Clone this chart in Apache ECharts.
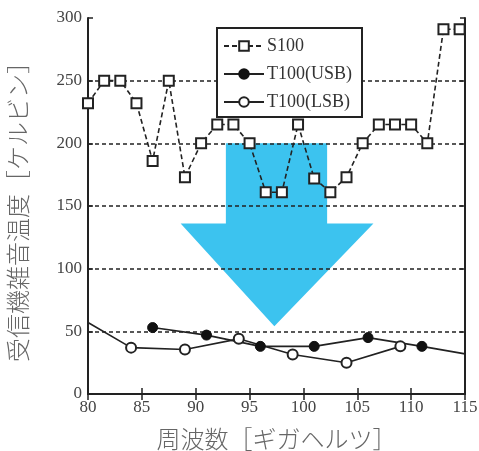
<!DOCTYPE html>
<html>
<head>
<meta charset="utf-8">
<script src="https://cdn.jsdelivr.net/npm/echarts@6/dist/echarts.min.js"></script>
<style>html,body{margin:0;padding:0;background:#fff}#c{width:479px;height:451px}</style>
</head>
<body>
<div id="c"></div>
<script>
const s100Freq = [80, 81.5, 83, 84.5, 86, 87.5, 89, 90.5, 92, 93.5, 95, 96.5, 98, 99.5, 101, 102.5, 104, 105.5, 107, 108.5, 110, 111.5, 113, 114.5];
const s100Vals = [232, 250, 250, 232, 186, 250, 173, 200, 215, 215, 200, 161, 161, 215, 172, 161, 173, 200, 215, 215, 215, 200, 291, 291];
const usbFreq = [86, 91, 96, 101, 106, 111, 115];
const usbVals = [53, 47, 38, 38, 45, 38, 32];
const lsbFreq = [80, 84, 89, 94, 99, 104, 109];
const lsbVals = [57, 37, 35.5, 44, 31.5, 25, 38];
const yTicks = [0, 50, 100, 150, 200, 250, 300];
const xTicks = [80, 85, 90, 95, 100, 105, 110, 115];
// arrow annotation outline in data coordinates
const arrowOutline = [[92.8, 200], [102.2, 200], [102.2, 136], [106.5, 136], [97.3, 54], [88.6, 136], [92.8, 136]];

const serif = 'Liberation Serif';
const jp = 'Noto Sans CJK JP';
const chart = echarts.init(document.getElementById('c'));

function pairs(xs, ys, noSymbolIdx) {
  return xs.map((x, i) => {
    const d = { value: [x, ys[i]] };
    if (noSymbolIdx !== undefined && noSymbolIdx.includes(i)) d.symbol = 'none';
    return d;
  });
}

chart.setOption({
  backgroundColor: '#fff',
  animation: false,
  grid: { left: 88, right: 14, top: 18, bottom: 57, containLabel: false, outerBoundsMode: 'none' },
  xAxis: [{
    type: 'value', min: 80, max: 115, interval: 5,
    axisLine: { lineStyle: { color: '#222', width: 2 } },
    axisTick: { inside: true, length: 6, lineStyle: { color: '#222', width: 1.5 } },
    axisLabel: { color: '#444', fontFamily: serif, fontSize: 17, margin: 5 },
    splitLine: { show: false },
    name: '周波数［ギガヘルツ］', nameLocation: 'middle', nameGap: 33,
    nameTextStyle: { color: '#666', fontFamily: jp, fontSize: 24, fontWeight: 300 }
  }, {
    type: 'value', min: 80, max: 115, interval: 5, position: 'top',
    axisLine: { lineStyle: { color: '#222', width: 2 } },
    axisTick: { inside: true, length: 6, lineStyle: { color: '#222', width: 1.5 } },
    axisLabel: { show: false }, splitLine: { show: false }
  }],
  yAxis: [{
    type: 'value', min: 0, max: 300, interval: 50,
    axisLine: { show: true, lineStyle: { color: '#222', width: 2 } },
    axisTick: { show: true, inside: true, length: 5, lineStyle: { color: '#222', width: 1.5 } },
    axisLabel: { color: '#444', fontFamily: serif, fontSize: 17, margin: 6 },
    splitLine: { show: true, showMinLine: false, showMaxLine: false, lineStyle: { color: '#222', type: [4, 3], width: 1.5 } },
    name: '受信機雑音温度［ケルビン］', nameLocation: 'middle', nameGap: 58,
    nameTextStyle: { color: '#666', fontFamily: jp, fontSize: 24, fontWeight: 300 }
  }, {
    type: 'value', min: 0, max: 300, interval: 50, position: 'right',
    axisLine: { show: true, lineStyle: { color: '#222', width: 2 } },
    axisTick: { show: true, inside: true, length: 5, lineStyle: { color: '#222', width: 1.5 } },
    axisLabel: { show: false }, splitLine: { show: false }
  }],
  legend: {
    left: 217, top: 28, orient: 'vertical',
    backgroundColor: '#fff', borderColor: '#222', borderWidth: 2,
    padding: [9, 10, 6, 6], itemGap: 10, itemWidth: 40, itemHeight: 12,
    textStyle: { fontFamily: serif, fontSize: 18, color: '#333', padding: [0, 0, 0, -2] },
    data: ['S100', 'T100(USB)', 'T100(LSB)']
  },
  series: [{
    name: 'S100', type: 'line', z: 5,
    data: pairs(s100Freq, s100Vals),
    symbol: 'rect', symbolSize: 10,
    lineStyle: { color: '#222', width: 1.6, type: [5, 3] },
    itemStyle: { color: '#fff', borderColor: '#222', borderWidth: 2 }
  }, {
    name: 'T100(USB)', type: 'line', z: 4,
    data: pairs(usbFreq, usbVals, [6]),
    symbol: 'circle', symbolSize: 10,
    lineStyle: { color: '#222', width: 1.6 },
    itemStyle: { color: '#111', borderColor: '#111', borderWidth: 1 }
  }, {
    name: 'T100(LSB)', type: 'line', z: 4,
    data: pairs(lsbFreq, lsbVals, [0]),
    symbol: 'circle', symbolSize: 10,
    lineStyle: { color: '#222', width: 1.6 },
    itemStyle: { color: '#fff', borderColor: '#222', borderWidth: 2 }
  }]
});

const pts = arrowOutline.map(p => chart.convertToPixel({ gridIndex: 0 }, p));
chart.setOption({
  graphic: [{
    type: 'polygon', z: -10, silent: true,
    shape: { points: pts },
    style: { fill: '#3cc3ef' }
  }]
});
</script>
</body>
</html>
